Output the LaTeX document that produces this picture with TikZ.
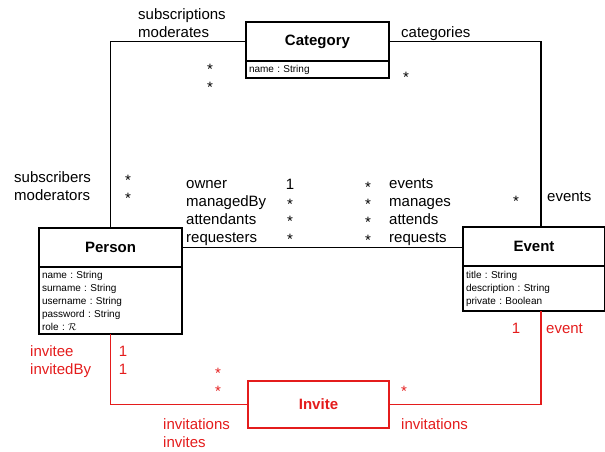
\documentclass[tikz,border=0pt]{standalone}
\usepackage{fontspec}
\setmainfont{Liberation Sans}
\usetikzlibrary{positioning}
\usepackage{xcolor}
\definecolor{invred}{RGB}{228,28,28}
\frenchspacing

\begin{document}
\begin{tikzpicture}[x=1pt,y=-1pt,
			classtitle/.style={draw,line width=1.1pt,outer sep=0pt,minimum width=143pt,minimum height=39pt,inner sep=0pt,font=\fontsize{15}{18}\selectfont\bfseries},
			classattr/.style={draw,line width=1.1pt,outer sep=0pt,minimum width=143pt,text width=137pt,inner sep=3pt,align=left,anchor=north,font=\fontsize{10}{13}\selectfont},
			assoc/.style={line width=1.1pt},
			lbl/.style={anchor=base west,inner sep=0pt,font=\fontsize{15}{18}\selectfont},
			mult/.style={anchor=base,inner sep=0pt,font=\fontsize{15}{18}\selectfont}]
			\useasboundingbox (0,0) rectangle (605,451);
			% classes
			\node [classtitle] (cattitle) at (317.5,41.5) {Category};
			\node [classattr,minimum height=17pt,below=0pt of cattitle] (catattr) {name : String};
			\node [classtitle] (pertitle) at (110.5,247.5) {Person};
			\node [classattr,minimum height=67pt,below=0pt of pertitle] (perattr) {name : String\\surname : String\\username : String\\password : String\\role : $\mathcal{R}$};
			\node [classtitle,minimum width=142pt] (evtitle) at (534,246.5) {Event};
			\node [classattr,minimum width=142pt,text width=136pt,minimum height=45pt,below=0pt of evtitle] (evattr) {title : String\\description : String\\private : Boolean};
			\node [classtitle,draw=invred,text=invred,minimum width=141pt,minimum height=47pt] (invite) at (318.5,404.5) {Invite};
			% associations
			\draw [assoc] (pertitle.north) |- (cattitle.west);
			\draw [assoc] (cattitle.east) -| ([xshift=7pt]evtitle.north);
			\draw [assoc] (pertitle.east) -- (pertitle.east -| evtitle.west);
			\draw [assoc,invred] (perattr.south) |- (invite.west);
			\draw [assoc,invred] (invite.east) -| ([xshift=7pt]evattr.south);
			% person - category
			\node [lbl] (lsubs) at (138,19) {subscriptions};
			\node [lbl] (lmods) at (138,37) {moderates};
			\node [mult] (mcat1) at (210,74.5) {*};
			\node [mult] (mcat2) at (210,92.5) {*};
			\node [lbl] (lsubr) at (14,182) {subscribers};
			\node [lbl] (lmodr) at (14,200) {moderators};
			\node [mult] (mper1) at (128,185) {*};
			\node [mult] (mper2) at (128,203) {*};
			% category - event
			\node [lbl] (lcats) at (401,37) {categories};
			\node [mult] (mcat3) at (406,82) {*};
			\node [mult] (mev1) at (516,206) {*};
			\node [lbl] (levs) at (547,201) {events};
			% person - event
			\node [lbl] (lown) at (186,188) {owner};
			\node [lbl] (lmgd) at (186,206) {managedBy};
			\node [lbl] (latt) at (186,224) {attendants};
			\node [lbl] (lreq) at (186,242) {requesters};
			\node [mult] (mown) at (290,189.5) {1};
			\node [mult] (mmgd) at (290,209) {*};
			\node [mult] (matt) at (290,226.5) {*};
			\node [mult] (mreq) at (290,244.5) {*};
			\node [mult] (mevs) at (368,192) {*};
			\node [mult] (mmgs) at (368,209.5) {*};
			\node [mult] (mats) at (368,227) {*};
			\node [mult] (mrqs) at (368,245) {*};
			\node [lbl] (levts) at (389,188) {events};
			\node [lbl] (lmgs) at (389,206) {manages};
			\node [lbl] (lats) at (389,224) {attends};
			\node [lbl] (lrqs) at (389,242) {requests};
			% invite
			\node [lbl,invred] (linvee) at (30,356) {invitee};
			\node [lbl,invred] (linvby) at (30,374) {invitedBy};
			\node [mult,invred] (minvee) at (123,356.5) {1};
			\node [mult,invred] (minvby) at (123,374.5) {1};
			\node [mult,invred] (minv1) at (218,378) {*};
			\node [mult,invred] (minv2) at (218,396) {*};
			\node [lbl,invred] (linvs) at (163,429) {invitations};
			\node [lbl,invred] (linvt) at (163,447) {invites};
			\node [mult,invred] (minv3) at (404,396) {*};
			\node [lbl,invred] (linve) at (401,429) {invitations};
			\node [mult,invred] (mevt) at (516,333.5) {1};
			\node [lbl,invred] (levt) at (546,333) {event};
		\end{tikzpicture}
\end{document}
